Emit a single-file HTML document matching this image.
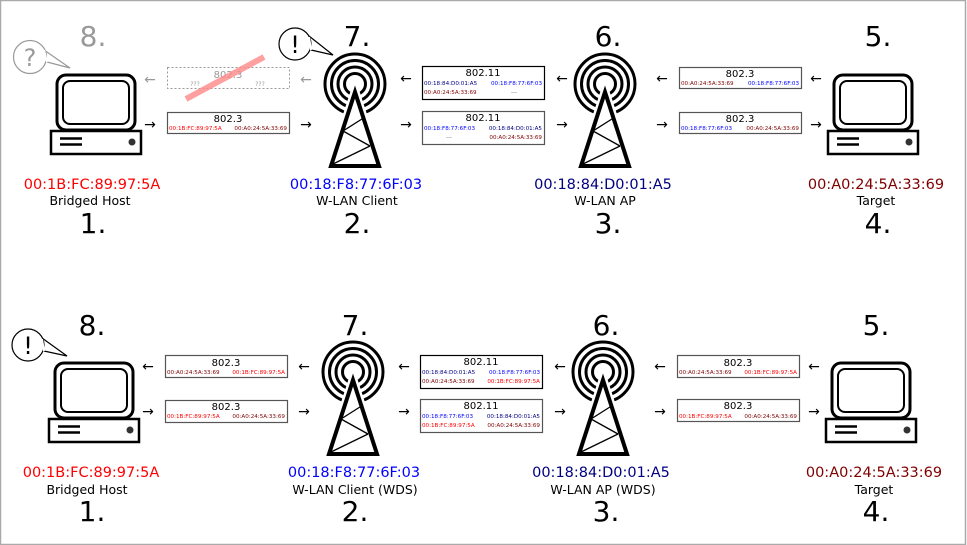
<!DOCTYPE html>
<html><head><meta charset="utf-8"><style>
html,body{margin:0;padding:0;background:#fff}
svg{display:block}
text{font-family:"DejaVu Sans","Liberation Sans",sans-serif}
</style></head><body>
<svg width="967" height="545" viewBox="0 0 967 545" xmlns="http://www.w3.org/2000/svg">
<defs>
<g id="pc" fill="none" stroke="#000">
 <rect x="0" y="0" width="78" height="55" rx="9" stroke-width="3"/>
 <rect x="6" y="6" width="66" height="43" rx="7" stroke-width="2"/>
 <rect x="-6" y="56" width="90" height="23" stroke-width="2.5" fill="#fff"/>
 <line x1="3" y1="63.5" x2="25" y2="63.5" stroke-width="2.5"/>
 <line x1="3" y1="69.5" x2="25" y2="69.5" stroke-width="2.5"/>
 <circle cx="75" cy="67" r="3.5" fill="#333" stroke="none"/>
</g>
<g id="tw">
 <g fill="none" stroke="#000" stroke-width="3">
  <circle cx="0" cy="0" r="30"/>
  <circle cx="0" cy="0" r="23.5"/>
  <circle cx="0" cy="0" r="17"/>
  <circle cx="0" cy="0" r="10.5"/>
 </g>
 <polygon points="0,6 -30,84 30,84" fill="#fff"/>
 <polygon points="0,8 -24,82 24,82" fill="none" stroke="#fff" stroke-width="9"/>
 <polygon points="0,8 -24,82 24,82" fill="none" stroke="#000" stroke-width="4" stroke-linejoin="miter"/>
 <g stroke="#000" stroke-width="1.3">
  <line x1="8.5" y1="34" x2="-12" y2="47"/>
  <line x1="-12" y1="47" x2="15" y2="62"/>
  <line x1="15" y1="62" x2="-22" y2="80"/>
 </g>
</g>
</defs>
<rect x="0.5" y="0.5" width="965" height="544" fill="#fff" stroke="#aaa" stroke-width="1.5"/>

<text x="93" y="46" font-size="28" fill="#999" text-anchor="middle">8.</text>
<text x="357" y="46" font-size="28" text-anchor="middle">7.</text>
<text x="608" y="46" font-size="28" text-anchor="middle">6.</text>
<text x="878" y="46" font-size="28" text-anchor="middle">5.</text>

<g fill="#fff" stroke="#999" stroke-width="1.2">
 <path d="M44,50 L70,68 L47,62" />
 <circle cx="30" cy="57" r="16.5"/>
 <path d="M44,50 L47,62" stroke="#fff" stroke-width="2"/>
</g>
<text x="30" y="66" font-size="24" fill="#999" text-anchor="middle">?</text>
<g fill="#fff" stroke="#000" stroke-width="1.2">
 <path d="M309,36 L333,55 L311,50" />
 <circle cx="295" cy="44" r="16"/>
 <path d="M309,37 L311,50" stroke="#fff" stroke-width="2"/>
</g>
<text x="295" y="53" font-size="24" text-anchor="middle">!</text>

<use href="#pc" x="57" y="75"/>
<use href="#pc" x="834" y="75"/>
<use href="#tw" x="355" y="84"/>
<use href="#tw" x="605" y="84"/>

<g font-size="14.5" text-anchor="middle">
<text x="92" y="189" fill="#ff0000">00:1B:FC:89:97:5A</text>
<text x="356" y="189" fill="#0000ff">00:18:F8:77:6F:03</text>
<text x="603" y="189" fill="#000080">00:18:84:D0:01:A5</text>
<text x="876" y="189" fill="#800000">00:A0:24:5A:33:69</text>
</g>
<g font-size="12.5" text-anchor="middle">
<text x="90" y="205">Bridged Host</text>
<text x="357" y="205">W-LAN Client</text>
<text x="605" y="205">W-LAN AP</text>
<text x="876" y="205">Target</text>
</g>
<g font-size="28" text-anchor="middle">
<text x="93" y="233">1.</text>
<text x="357" y="233">2.</text>
<text x="608" y="233">3.</text>
<text x="878" y="233">4.</text>
</g>

<g font-size="14" text-anchor="middle">
<text x="150" y="84" fill="#999">←</text>
<text x="306" y="84" fill="#999">←</text>
<text x="150" y="129">→</text>
<text x="306" y="129">→</text>
<text x="406" y="83">←</text>
<text x="406" y="129">→</text>
<text x="562" y="83">←</text>
<text x="562" y="129">→</text>
<text x="662" y="83">←</text>
<text x="662" y="129">→</text>
<text x="816" y="83">←</text>
<text x="816" y="129">→</text>
</g>

<rect x="167.5" y="67.5" width="122" height="21" fill="#fff" stroke="#999" stroke-dasharray="2,2"/>
<text x="228" y="78" font-size="10" fill="#999" text-anchor="middle">802.3</text>
<text x="195" y="86" font-size="6" fill="#999" text-anchor="middle">???</text>
<text x="260" y="86" font-size="6" fill="#999" text-anchor="middle">???</text>
<line x1="186" y1="99" x2="264" y2="57" stroke="#f88" stroke-opacity="0.8" stroke-width="6"/>

<g font-size="10" text-anchor="middle">
<rect x="167.5" y="112.5" width="122" height="21" fill="#fff" stroke="#555" stroke-width="1.2"/>
<text x="228" y="122">802.3</text>
<rect x="422.5" y="66.5" width="122" height="33" fill="#fff" stroke="#000" stroke-width="1.2"/>
<text x="483" y="76">802.11</text>
<rect x="422.5" y="111.5" width="122" height="33" fill="#fff" stroke="#555" stroke-width="1.2"/>
<text x="483" y="121">802.11</text>
<rect x="679.5" y="67.5" width="122" height="21" fill="#fff" stroke="#555" stroke-width="1.2"/>
<text x="740" y="77">802.3</text>
<rect x="679.5" y="112.5" width="122" height="21" fill="#fff" stroke="#555" stroke-width="1.2"/>
<text x="740" y="122">802.3</text>
</g>
<g font-size="5.6">
<text x="169" y="130" fill="#ff0000">00:1B:FC:89:97:5A</text>
<text x="287" y="130" fill="#800000" text-anchor="end">00:A0:24:5A:33:69</text>
<text x="424" y="85" fill="#000080">00:18:84:D0:01:A5</text>
<text x="542" y="85" fill="#0000ff" text-anchor="end">00:18:F8:77:6F:03</text>
<text x="424" y="94" fill="#800000">00:A0:24:5A:33:69</text>
<text x="514" y="94" fill="#666" text-anchor="middle">---</text>
<text x="424" y="130" fill="#0000ff">00:18:F8:77:6F:03</text>
<text x="542" y="130" fill="#000080" text-anchor="end">00:18:84:D0:01:A5</text>
<text x="449" y="139" fill="#666" text-anchor="middle">---</text>
<text x="542" y="139" fill="#800000" text-anchor="end">00:A0:24:5A:33:69</text>
<text x="681" y="85" fill="#800000">00:A0:24:5A:33:69</text>
<text x="799" y="85" fill="#0000ff" text-anchor="end">00:18:F8:77:6F:03</text>
<text x="681" y="130" fill="#0000ff">00:18:F8:77:6F:03</text>
<text x="799" y="130" fill="#800000" text-anchor="end">00:A0:24:5A:33:69</text>
</g>

<text x="92" y="335" font-size="28" text-anchor="middle">8.</text>
<text x="355" y="335" font-size="28" text-anchor="middle">7.</text>
<text x="606" y="335" font-size="28" text-anchor="middle">6.</text>
<text x="876" y="335" font-size="28" text-anchor="middle">5.</text>

<g fill="#fff" stroke="#000" stroke-width="1.2">
 <path d="M42,338 L67,356 L44,351" />
 <circle cx="28" cy="345" r="16"/>
 <path d="M42,339 L44,351" stroke="#fff" stroke-width="2"/>
</g>
<text x="28" y="354" font-size="24" text-anchor="middle">!</text>

<use href="#pc" x="55" y="363"/>
<use href="#pc" x="832" y="363"/>
<use href="#tw" x="353" y="372"/>
<use href="#tw" x="603" y="372"/>

<g font-size="14.5" text-anchor="middle">
<text x="91" y="477" fill="#ff0000">00:1B:FC:89:97:5A</text>
<text x="354" y="477" fill="#0000ff">00:18:F8:77:6F:03</text>
<text x="601" y="477" fill="#000080">00:18:84:D0:01:A5</text>
<text x="874" y="477" fill="#800000">00:A0:24:5A:33:69</text>
</g>
<g font-size="12.5" text-anchor="middle">
<text x="87" y="494">Bridged Host</text>
<text x="355" y="494">W-LAN Client (WDS)</text>
<text x="603" y="494">W-LAN AP (WDS)</text>
<text x="874" y="494">Target</text>
</g>
<g font-size="28" text-anchor="middle">
<text x="92" y="521">1.</text>
<text x="355" y="521">2.</text>
<text x="606" y="521">3.</text>
<text x="876" y="521">4.</text>
</g>

<g font-size="14" text-anchor="middle">
<text x="148" y="371">←</text>
<text x="304" y="371">←</text>
<text x="148" y="416">→</text>
<text x="304" y="416">→</text>
<text x="404" y="371">←</text>
<text x="404" y="416">→</text>
<text x="560" y="371">←</text>
<text x="560" y="416">→</text>
<text x="660" y="371">←</text>
<text x="660" y="416">→</text>
<text x="814" y="371">←</text>
<text x="814" y="416">→</text>
</g>

<g font-size="10" text-anchor="middle">
<rect x="165.5" y="355.5" width="122" height="22" fill="#fff" stroke="#555" stroke-width="1.2"/>
<text x="226" y="366">802.3</text>
<rect x="165.5" y="400.5" width="122" height="22" fill="#fff" stroke="#555" stroke-width="1.2"/>
<text x="226" y="410">802.3</text>
<rect x="420.5" y="355.5" width="122" height="33" fill="#fff" stroke="#000" stroke-width="1.2"/>
<text x="481" y="365">802.11</text>
<rect x="420.5" y="399.5" width="122" height="33" fill="#fff" stroke="#555" stroke-width="1.2"/>
<text x="481" y="409">802.11</text>
<rect x="677.5" y="355.5" width="122" height="22" fill="#fff" stroke="#555" stroke-width="1.2"/>
<text x="738" y="366">802.3</text>
<rect x="677.5" y="399.5" width="122" height="22" fill="#fff" stroke="#555" stroke-width="1.2"/>
<text x="738" y="409">802.3</text>
</g>
<g font-size="5.6">
<text x="167" y="374" fill="#800000">00:A0:24:5A:33:69</text>
<text x="285" y="374" fill="#ff0000" text-anchor="end">00:1B:FC:89:97:5A</text>
<text x="167" y="418" fill="#ff0000">00:1B:FC:89:97:5A</text>
<text x="285" y="418" fill="#800000" text-anchor="end">00:A0:24:5A:33:69</text>
<text x="422" y="374" fill="#000080">00:18:84:D0:01:A5</text>
<text x="540" y="374" fill="#0000ff" text-anchor="end">00:18:F8:77:6F:03</text>
<text x="422" y="383" fill="#800000">00:A0:24:5A:33:69</text>
<text x="540" y="383" fill="#ff0000" text-anchor="end">00:1B:FC:89:97:5A</text>
<text x="422" y="418" fill="#0000ff">00:18:F8:77:6F:03</text>
<text x="540" y="418" fill="#000080" text-anchor="end">00:18:84:D0:01:A5</text>
<text x="422" y="427" fill="#ff0000">00:1B:FC:89:97:5A</text>
<text x="540" y="427" fill="#800000" text-anchor="end">00:A0:24:5A:33:69</text>
<text x="679" y="374" fill="#800000">00:A0:24:5A:33:69</text>
<text x="797" y="374" fill="#ff0000" text-anchor="end">00:1B:FC:89:97:5A</text>
<text x="679" y="418" fill="#ff0000">00:1B:FC:89:97:5A</text>
<text x="797" y="418" fill="#800000" text-anchor="end">00:A0:24:5A:33:69</text>
</g>
</svg>
</body></html>
